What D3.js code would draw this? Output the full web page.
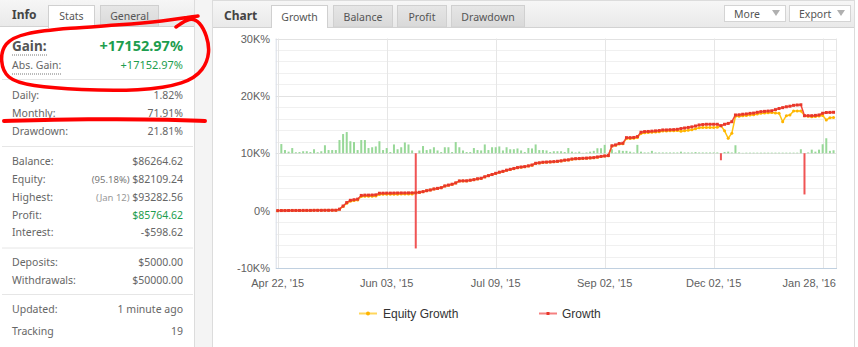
<!DOCTYPE html>
<html><head><meta charset="utf-8">
<script src="https://cdn.jsdelivr.net/npm/d3@7"></script>
<style>
html,body{margin:0;padding:0;background:#fff;}
svg{display:block;}
</style></head><body>
<svg id="c" width="858" height="347"></svg>
<script>
// ---------- DATA ----------
const tickIndex = [0, 30, 60, 90, 120, 150];
const tickLabels = ["Apr 22, '15", "Jun 03, '15", "Jul 09, '15", "Sep 02, '15", "Dec 02, '15", "Jan 28, '16"];
const yTicks = [-10, 0, 10, 20, 30];
const yTickLabels = ["-10K%", "0%", "10K%", "20K%", "30K%"];
const seriesNames = ["Equity Growth", "Growth"];

// growth in thousands of percent (K%)
const growth = [0,0.01,0.01,0.02,0.03,0.03,0.03,0.04,0.04,0.04,
0.05,0.05,0.05,0.06,0.06,0.07,0.07,0.25,0.8,1.4,
1.8,1.9,2.0,2.65,2.7,2.7,2.72,2.75,3.03,3.04,
3.05,3.05,3.06,3.07,3.08,3.08,3.09,3.1,3.1,3.2,
3.31,3.48,3.6,3.78,3.88,4.0,4.3,4.45,4.6,4.83,
5.17,5.2,5.2,5.3,5.4,5.55,5.64,5.9,6.1,6.3,
6.5,6.7,6.85,7.05,7.2,7.35,7.5,7.6,7.67,7.8,
7.95,8.25,8.33,8.43,8.46,8.5,8.54,8.6,8.68,8.8,
8.85,9.0,9.05,9.08,9.12,9.15,9.2,9.24,9.35,9.45,
9.53,9.6,11.3,11.45,11.7,11.74,12.72,12.72,12.75,12.9,
13.66,13.77,13.8,13.85,13.9,13.95,14.06,14.06,14.1,14.12,
14.17,14.3,14.4,14.5,14.6,14.75,14.93,15.0,15.05,15.05,
15.05,15.05,14.8,15.05,15.2,15.5,16.67,16.7,16.8,16.85,
16.95,17.0,17.14,17.25,17.3,17.35,17.4,17.6,17.8,17.95,
18.1,18.2,18.35,18.41,18.45,16.55,16.55,16.55,16.6,16.67,
16.97,17.1,17.12,17.14];

const equityGrowth = [0,0.01,0.01,0.02,0.03,0.03,0.03,0.04,0.04,0.04,
0.05,0.05,0.05,0.06,0.06,0.07,0.07,0.22,0.72,1.3,
1.65,1.75,1.85,2.45,2.5,2.5,2.52,2.55,2.83,2.84,
2.85,2.85,2.86,2.87,2.88,2.88,2.89,2.9,3.1,3.18,
3.3,3.46,3.58,3.76,3.86,3.98,4.28,4.43,4.58,4.8,
5.15,5.18,5.18,5.28,5.38,5.52,5.62,5.88,6.08,6.28,
6.48,6.68,6.82,7.02,7.18,7.32,7.48,7.58,7.64,7.78,
7.92,8.22,8.3,8.4,8.43,8.47,8.51,8.57,8.65,8.77,
8.82,8.97,9.02,9.05,9.09,9.12,9.17,9.21,9.32,9.42,
9.5,9.57,11.25,11.4,11.62,11.66,12.55,12.56,12.6,12.74,
13.45,13.56,13.6,13.64,13.7,13.75,13.86,13.86,13.9,13.92,
13.95,13.85,13.92,14.0,14.1,14.25,14.43,14.48,14.5,14.5,
14.5,14.52,14.8,13.9,12.6,13.48,16.45,16.45,16.55,16.6,
16.65,16.7,16.85,16.95,17.0,17.05,17.1,17.0,16.97,15.5,
16.55,16.67,17.37,17.37,17.37,16.55,16.45,16.37,16.4,16.5,
16.6,15.8,16.2,16.25];

// daily gain (%) shown as bars around the 10K% line
const dailyGain = [0,2.3,0.8,0.4,1.3,0.25,0.3,0.5,0.5,0.3,
1.0,0.25,0.5,2.0,0.8,0.8,0.8,3.3,4.8,5.3,
3.0,2.8,0.8,3.3,3.3,1.3,1.5,1.7,3.0,0.8,
1.3,0.3,2.2,1.0,1.5,2.7,2.2,0.7,-23.8,0.7,
1.8,0.8,1.0,1.5,0.7,0.3,1.5,1.5,0.3,2.8,
1.5,0.7,0.3,0.3,1.3,0.8,0.7,2.2,0.8,1.5,
1.5,1.7,0.7,1.5,1.0,1.0,1.2,0.7,0.3,1.3,
1.2,2.2,0.8,0.8,0.7,0.3,0.5,0.5,0.5,0.3,
1.3,0.4,0.2,0.4,0.1,0.2,0.4,0.6,1.25,1.25,
2.1,0.1,1.0,0.2,0.75,0.6,0.6,0.4,0.2,2.1,
0.4,0.2,0.2,0.6,0.2,0.2,0.2,0.2,0.2,0.2,
0.2,0.4,0.2,0.2,0.2,0.3,0.2,0.2,0.2,0.2,
0.2,0.2,-1.75,0.3,0.4,0.2,2.0,0.2,0.1,0.15,
0.15,0.15,0.15,0.15,0.15,0.15,0.15,0.15,0.15,0.15,
0.15,0.15,0.15,0.15,1.0,-10.3,0.2,0.9,0.4,0.9,
2.25,3.75,0.6,0.75];

// info panel
const infoLabels = ["Daily:", "Monthly:", "Drawdown:", "Balance:", "Equity:", "Highest:", "Profit:", "Interest:", "Deposits:", "Withdrawals:", "Updated:", "Tracking"];
const infoValues = ["1.82%", "71.91%", "21.81%", "$86264.62", "$82109.24", "$93282.56", "$85764.62", "-$598.62", "$5000.00", "$50000.00", "1 minute ago", "19"];
const infoNotes = ["", "", "", "", "(95.18%)", "(Jan 12)", "", "", "", "", "", ""];
const infoY = [98.7, 117, 135.4, 164.7, 183, 201.4, 218.7, 236.4, 266, 283.7, 313, 335.4];
const gainLabel = "Gain:", gainValue = "+17152.97%";
const absGainLabel = "Abs. Gain:", absGainValue = "+17152.97%";
const leftTabs = ["Stats", "General"];
const chartTabs = ["Growth", "Balance", "Profit", "Drawdown"];

// ---------- DRAW ----------
const svg = d3.select("#c");
const F = "'Noto Sans', 'DejaVu Sans', sans-serif";
const FA = "'Liberation Sans', Arial, sans-serif";

const defs = svg.append("defs");
const g1 = defs.append("linearGradient").attr("id","hdr").attr("x1",0).attr("x2",0).attr("y1",0).attr("y2",1);
g1.append("stop").attr("offset","0%").attr("stop-color","#f6f6f6");
g1.append("stop").attr("offset","100%").attr("stop-color","#e9e9e9");
const g2 = defs.append("linearGradient").attr("id","tab").attr("x1",0).attr("x2",0).attr("y1",0).attr("y2",1);
g2.append("stop").attr("offset","0%").attr("stop-color","#e6e6e6");
g2.append("stop").attr("offset","100%").attr("stop-color","#d9d9d9");

// gap between panels
svg.append("rect").attr("x",194).attr("y",0).attr("width",19).attr("height",347).attr("fill","#f4f4f4");

// ---- LEFT PANEL ----
svg.append("rect").attr("x",0).attr("y",0).attr("width",194).attr("height",347).attr("fill","#fff");
svg.append("rect").attr("x",0).attr("y",0).attr("width",194).attr("height",27).attr("fill","url(#hdr)");
svg.append("line").attr("x1",0).attr("x2",194).attr("y1",26.5).attr("y2",26.5).attr("stroke","#d2d2d2");
svg.append("line").attr("x1",194.5).attr("x2",194.5).attr("y1",0).attr("y2",347).attr("stroke","#dcdcdc");
svg.append("text").attr("x",12).attr("y",19).attr("font-family",F).attr("font-weight","bold").attr("font-size",12).attr("fill","#444").text("Info");
// Stats tab (active)
svg.append("rect").attr("x",48.5).attr("y",5.5).attr("width",46).attr("height",22).attr("fill","#fff").attr("stroke","#d0d0d0");
svg.append("line").attr("x1",49).attr("x2",94).attr("y1",27).attr("y2",27).attr("stroke","#fff").attr("stroke-width",2);
svg.append("text").attr("x",71.5).attr("y",20).attr("text-anchor","middle").attr("font-family",F).attr("font-size",10.5).attr("fill","#555").text(leftTabs[0]);
svg.append("rect").attr("x",100.5).attr("y",5.5).attr("width",58).attr("height",21).attr("fill","url(#tab)").attr("stroke","#cfcfcf");
svg.append("text").attr("x",129.5).attr("y",20).attr("text-anchor","middle").attr("font-family",F).attr("font-size",10.5).attr("fill","#555").text(leftTabs[1]);

// Gain rows
svg.append("text").attr("x",12).attr("y",51).attr("font-family",F).attr("font-weight","bold").attr("font-size",13.5).attr("fill","#555").text(gainLabel);
svg.append("text").attr("x",183).attr("y",51).attr("text-anchor","end").attr("font-family",F).attr("font-weight","bold").attr("font-size",14.5).attr("fill","#1d9d4e").text(gainValue);
svg.append("line").attr("x1",12).attr("x2",48).attr("y1",55).attr("y2",55).attr("stroke","#777").attr("stroke-dasharray","1,1");
svg.append("text").attr("x",12).attr("y",68.5).attr("font-family",F).attr("font-size",10.5).attr("fill","#666").text(absGainLabel);
svg.append("text").attr("x",183).attr("y",68.5).attr("text-anchor","end").attr("font-family",F).attr("font-size",11).attr("fill","#1d9d4e").text(absGainValue);
svg.append("line").attr("x1",12).attr("x2",62).attr("y1",74).attr("y2",74).attr("stroke","#777").attr("stroke-dasharray","1,1");

// separators
[79, 146, 247.5, 294].forEach(y => svg.append("line").attr("x1",2).attr("x2",193).attr("y1",y+0.5).attr("y2",y+0.5).attr("stroke","#e6e6e6"));

infoLabels.forEach((lab, i) => {
  svg.append("text").attr("x",12).attr("y",infoY[i]).attr("font-family",F).attr("font-size",10.5).attr("fill","#666").text(lab);
  const t = svg.append("text").attr("x",183).attr("y",infoY[i]).attr("text-anchor","end").attr("font-family",F).attr("font-size",10.5)
    .attr("fill", lab === "Profit:" ? "#1d9d4e" : "#666");
  if (infoNotes[i]) {
    t.append("tspan").attr("font-size",9.5).attr("fill", lab === "Highest:" ? "#999" : "#777").text(infoNotes[i] + " ");
  }
  t.append("tspan").text(infoValues[i]);
});
svg.append("line").attr("x1",12).attr("x2",55).attr("y1",120).attr("y2",120).attr("stroke","#777").attr("stroke-dasharray","1,1");

// red hand-drawn annotations
const hand = d3.line().curve(d3.curveBasis);
svg.append("path").attr("d", hand([[176,27],[190,17],[200,22],[207,36],[210,52],[204,70],[186,84],[140,91],[80,90],[30,86],[6,79],[0,60],[4,43],[22,33],[70,28],[120,25],[165,21],[190,17],[198,16]]))
  .attr("fill","none").attr("stroke","#ff0000").attr("stroke-width",3.5).attr("stroke-linecap","round");
svg.append("path").attr("d", hand([[4,121],[50,119.5],[120,119],[170,119.5],[205,121]]))
  .attr("fill","none").attr("stroke","#ff0000").attr("stroke-width",4).attr("stroke-linecap","round");

// ---- CHART PANEL ----
svg.append("rect").attr("x",212.5).attr("y",0.5).attr("width",642).attr("height",360).attr("fill","#fff").attr("stroke","#dcdcdc");
svg.append("rect").attr("x",213).attr("y",1).attr("width",641).attr("height",26).attr("fill","url(#hdr)");
svg.append("line").attr("x1",213).attr("x2",854).attr("y1",27.5).attr("y2",27.5).attr("stroke","#d2d2d2");
svg.append("text").attr("x",224).attr("y",20).attr("font-family",F).attr("font-weight","bold").attr("font-size",12).attr("fill","#444").text("Chart");
const tabX = [[271,56],[333,59],[397,49],[451,73]];
chartTabs.forEach((t, i) => {
  const [x0, w] = tabX[i];
  svg.append("rect").attr("x",x0+0.5).attr("y",5.5).attr("width",w).attr("height",i===0?22:21.5)
    .attr("fill", i===0 ? "#fff" : "url(#tab)").attr("stroke","#d0d0d0");
  if (i===0) svg.append("line").attr("x1",x0+1).attr("x2",x0+w).attr("y1",28).attr("y2",28).attr("stroke","#fff").attr("stroke-width",2);
  svg.append("text").attr("x",x0+w/2+0.5).attr("y",20.5).attr("text-anchor","middle").attr("font-family",F).attr("font-size",10.5).attr("fill","#555").text(t);
});
[["More",724,61],["Export",789,61]].forEach(([t,x0,w]) => {
  svg.append("rect").attr("x",x0+0.5).attr("y",5.5).attr("width",w).attr("height",16).attr("fill","#fff").attr("stroke","#d4d4d4");
  svg.append("text").attr("x",x0+10).attr("y",17.5).attr("font-family",F).attr("font-size",10.5).attr("fill","#555").text(t);
  svg.append("path").attr("d",`M${x0+w-13},10 L${x0+w-5},10 L${x0+w-9},16 Z`).attr("fill","#b0b0b0");
});

// scales
const x = d3.scaleLinear().domain([0, growth.length - 1]).range([277.7, 277.7 + 3.633 * (growth.length - 1)]);
const y = d3.scaleLinear().domain([-10, 30]).range([268, 38.5]);
const base = y(10);
const yd = d3.scaleLinear().domain([-25, 25]).range([base + 100, base - 100]);
const plotL = 275.7, plotR = 836;

// grid
const minor = d3.range(-10, 30.01, 2);
svg.append("g").selectAll("line").data(minor.filter(v => v % 10 !== 0)).join("line")
  .attr("x1",plotL).attr("x2",plotR).attr("y1",d=>Math.round(y(d))+0.5).attr("y2",d=>Math.round(y(d))+0.5).attr("stroke","#f0f0f0");
svg.append("g").selectAll("line").data(yTicks.filter(v=>v!==-10)).join("line")
  .attr("x1",plotL).attr("x2",plotR).attr("y1",d=>Math.round(y(d))+0.5).attr("y2",d=>Math.round(y(d))+0.5).attr("stroke","#e2e2e2");
svg.append("g").selectAll("line").data(tickIndex).join("line")
  .attr("x1",d=>Math.round(x(d))+0.5).attr("x2",d=>Math.round(x(d))+0.5).attr("y1",38.5).attr("y2",268).attr("stroke","#e6e6e6");
svg.append("line").attr("x1",plotR+0.5).attr("x2",plotR+0.5).attr("y1",38.5).attr("y2",268).attr("stroke","#e6e6e6");
svg.append("line").attr("x1",plotL+0.5).attr("x2",plotL+0.5).attr("y1",38.5).attr("y2",268).attr("stroke","#d8dde6");
svg.append("line").attr("x1",plotL).attr("x2",plotR+1).attr("y1",268.5).attr("y2",268.5).attr("stroke","#c0d0e0");

// y labels
svg.append("g").selectAll("text").data(yTicks).join("text")
  .attr("x",270).attr("y",d=>y(d)+4).attr("text-anchor","end").attr("font-family",FA).attr("font-size",11).attr("fill","#606060")
  .text((d,i)=>yTickLabels[i]);
// x labels
svg.append("g").selectAll("text").data(tickIndex).join("text")
  .attr("x",(d,i)=> i===tickIndex.length-1 ? plotR : x(d)).attr("y",287)
  .attr("text-anchor",(d,i)=> i===tickIndex.length-1 ? "end" : "middle")
  .attr("font-family",FA).attr("font-size",11).attr("fill","#606060").text((d,i)=>tickLabels[i]);

// daily bars
svg.append("g").selectAll("rect").data(dailyGain).join("rect")
  .attr("x",(d,i)=>x(i)-1).attr("width",2)
  .attr("y",d=> d>=0 ? yd(d) : base).attr("height",d=>Math.abs(yd(d)-base))
  .attr("fill",d=> d>=0 ? "#98d898" : "#f05454");

// lines
const line = d3.line().x((d,i)=>x(i)).y(d=>y(d));
svg.append("path").attr("d",line(equityGrowth)).attr("fill","none").attr("stroke","#ffc20e").attr("stroke-width",1.5);
svg.append("g").selectAll("circle").data(equityGrowth).join("circle")
  .attr("cx",(d,i)=>x(i)).attr("cy",d=>y(d)).attr("r",1.5).attr("fill","#ffb400");
svg.append("path").attr("d",line(growth)).attr("fill","none").attr("stroke","#f2473a").attr("stroke-width",1.5);
svg.append("g").selectAll("rect").data(growth).join("rect")
  .attr("x",(d,i)=>x(i)-1.5).attr("y",d=>y(d)-1.5).attr("width",3).attr("height",3).attr("fill","#e8372a");

// legend
const lg = svg.append("g");
lg.append("line").attr("x1",359).attr("x2",377).attr("y1",313.5).attr("y2",313.5).attr("stroke","#ffd65c").attr("stroke-width",2);
lg.append("circle").attr("cx",368).attr("cy",313.5).attr("r",2).attr("fill","#ffb400");
lg.append("text").attr("x",383).attr("y",317.5).attr("font-family",FA).attr("font-size",12).attr("fill","#333").text(seriesNames[0]);
lg.append("line").attr("x1",539).attr("x2",557).attr("y1",313.5).attr("y2",313.5).attr("stroke","#f58080").attr("stroke-width",2);
lg.append("rect").attr("x",546.5).attr("y",312).attr("width",3).attr("height",3).attr("fill","#e8372a");
lg.append("text").attr("x",562).attr("y",317.5).attr("font-family",FA).attr("font-size",12).attr("fill","#333").text(seriesNames[1]);
</script>
</body></html>
